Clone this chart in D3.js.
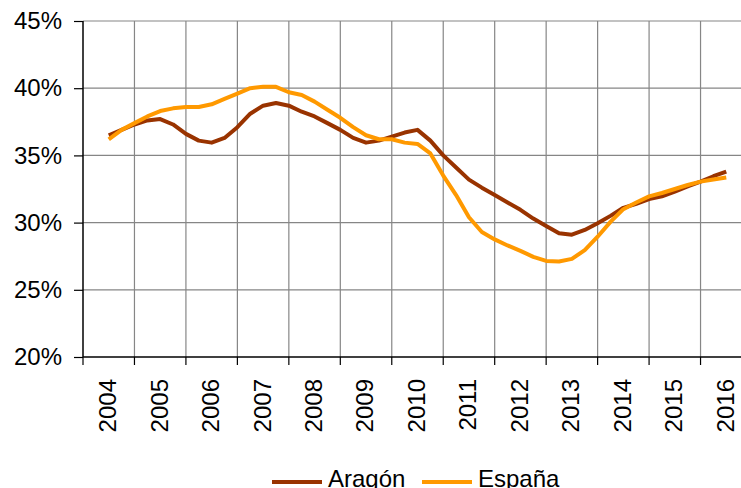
<!DOCTYPE html>
<html lang="es">
<head>
<meta charset="utf-8">
<style>
  body { margin: 0; background: #fff; }
  svg text { font-family: "Liberation Sans", Arial, sans-serif; fill: #000; }
  .grid line { stroke: #868686; stroke-width: 1.2; }
  .serie { fill: none; stroke-width: 4; stroke-linejoin: round; }
</style>
</head>
<body>
<svg width="741" height="488"></svg>
<script src="https://cdn.jsdelivr.net/npm/d3@7/dist/d3.min.js"></script>
<script>
// trimestres 2004T1 .. 2016T1
var years = [2004, 2005, 2006, 2007, 2008, 2009, 2010, 2011, 2012, 2013, 2014, 2015, 2016];
var yTicks = [20, 25, 30, 35, 40, 45];

var aragon = [36.5, 36.9, 37.3, 37.6, 37.7, 37.3, 36.6, 36.1, 35.95, 36.3, 37.1, 38.1,
              38.7, 38.9, 38.7, 38.25, 37.9, 37.4, 36.9, 36.3, 35.95, 36.1, 36.4, 36.7,
              36.9, 36.1, 35.0, 34.1, 33.2, 32.6, 32.05, 31.5, 30.95, 30.3, 29.75, 29.2,
              29.1, 29.45, 29.95, 30.5, 31.1, 31.4, 31.75, 31.95, 32.3, 32.7, 33.05, 33.45,
              33.8];
var espana = [36.2, 36.9, 37.4, 37.9, 38.3, 38.5, 38.6, 38.6, 38.8, 39.2, 39.6, 40.0,
              40.1, 40.1, 39.7, 39.5, 39.0, 38.4, 37.8, 37.1, 36.5, 36.2, 36.2, 35.95,
              35.85, 35.15, 33.5, 32.05, 30.4, 29.3, 28.75, 28.3, 27.9, 27.45, 27.15, 27.1,
              27.3, 27.95, 28.95, 30.05, 31.0, 31.5, 31.95, 32.2, 32.5, 32.8, 33.05, 33.2,
              33.35];

var series = [
  { name: "Aragón", values: aragon, color: "#993300" },
  { name: "España", values: espana, color: "#FF9900" }
];

var svg = d3.select("svg");
var mLeft = 83, mTop = 21, mBottom = 357, mRight = 752;

var x = d3.scaleLinear().domain([years[0] - 0.5, years[years.length - 1] + 0.5]).range([mLeft, mRight]);
var y = d3.scaleLinear().domain([20, 45]).range([mBottom, mTop]);

var bounds = d3.range(years[0] - 0.5, years[years.length - 1] + 1, 1);

// rejilla
var grid = svg.append("g").attr("class", "grid");
grid.selectAll(".v").data(bounds.slice(1)).enter().append("line")
    .attr("x1", function (d) { return x(d); }).attr("x2", function (d) { return x(d); })
    .attr("y1", mTop).attr("y2", mBottom);
grid.selectAll(".h").data(yTicks.slice(1)).enter().append("line")
    .attr("x1", mLeft).attr("x2", mRight)
    .attr("y1", function (d) { return y(d); }).attr("y2", function (d) { return y(d); });

// eje Y
var yAxis = svg.append("g")
    .attr("transform", "translate(" + mLeft + ",0)")
    .call(d3.axisLeft(y).tickValues(yTicks).tickSize(9).tickPadding(12)
        .tickFormat(function (d) { return d + "%"; }));
yAxis.select(".domain").attr("stroke", "#000").attr("stroke-width", 1.5).attr("d", "M0," + mTop + "V" + mBottom);
yAxis.selectAll(".tick line").attr("stroke", "#000").attr("stroke-width", 1.2);
yAxis.selectAll("text").style("font-size", "24px").attr("font-family", null);

// eje X
var xAxis = svg.append("g").attr("transform", "translate(0," + mBottom + ")");
xAxis.append("line").attr("x1", mLeft).attr("x2", mRight).attr("stroke", "#000").attr("stroke-width", 1.5);
xAxis.selectAll(".tk").data(bounds).enter().append("line")
    .attr("x1", function (d) { return x(d); }).attr("x2", function (d) { return x(d); })
    .attr("y1", 0).attr("y2", 8).attr("stroke", "#000").attr("stroke-width", 1.2);
xAxis.selectAll(".lbl").data(years).enter().append("text")
    .attr("transform", function (d) { return "translate(" + (x(d) - 1) + ",22) rotate(-90)"; })
    .attr("text-anchor", "end").attr("dy", "0.35em")
    .style("font-size", "24px")
    .text(function (d) { return d; });

// lineas
var line = d3.line()
    .x(function (d, i) { return x(years[0] + i / 4); })
    .y(function (d) { return y(d); });

svg.selectAll(".serie").data(series).enter().append("path")
    .attr("class", "serie")
    .attr("stroke", function (d) { return d.color; })
    .attr("d", function (d) { return line(d.values); });

// leyenda
var legX = [272, 422];
var leg = svg.selectAll(".leg").data(series).enter().append("g")
    .attr("transform", function (d, i) { return "translate(" + legX[i] + ",482)"; });
leg.append("line").attr("x1", 0).attr("x2", 50).attr("stroke", function (d) { return d.color; }).attr("stroke-width", 4);
leg.append("text").attr("x", 56).attr("y", 4.5).style("font-size", "24px").text(function (d) { return d.name; });
</script>
</body>
</html>
